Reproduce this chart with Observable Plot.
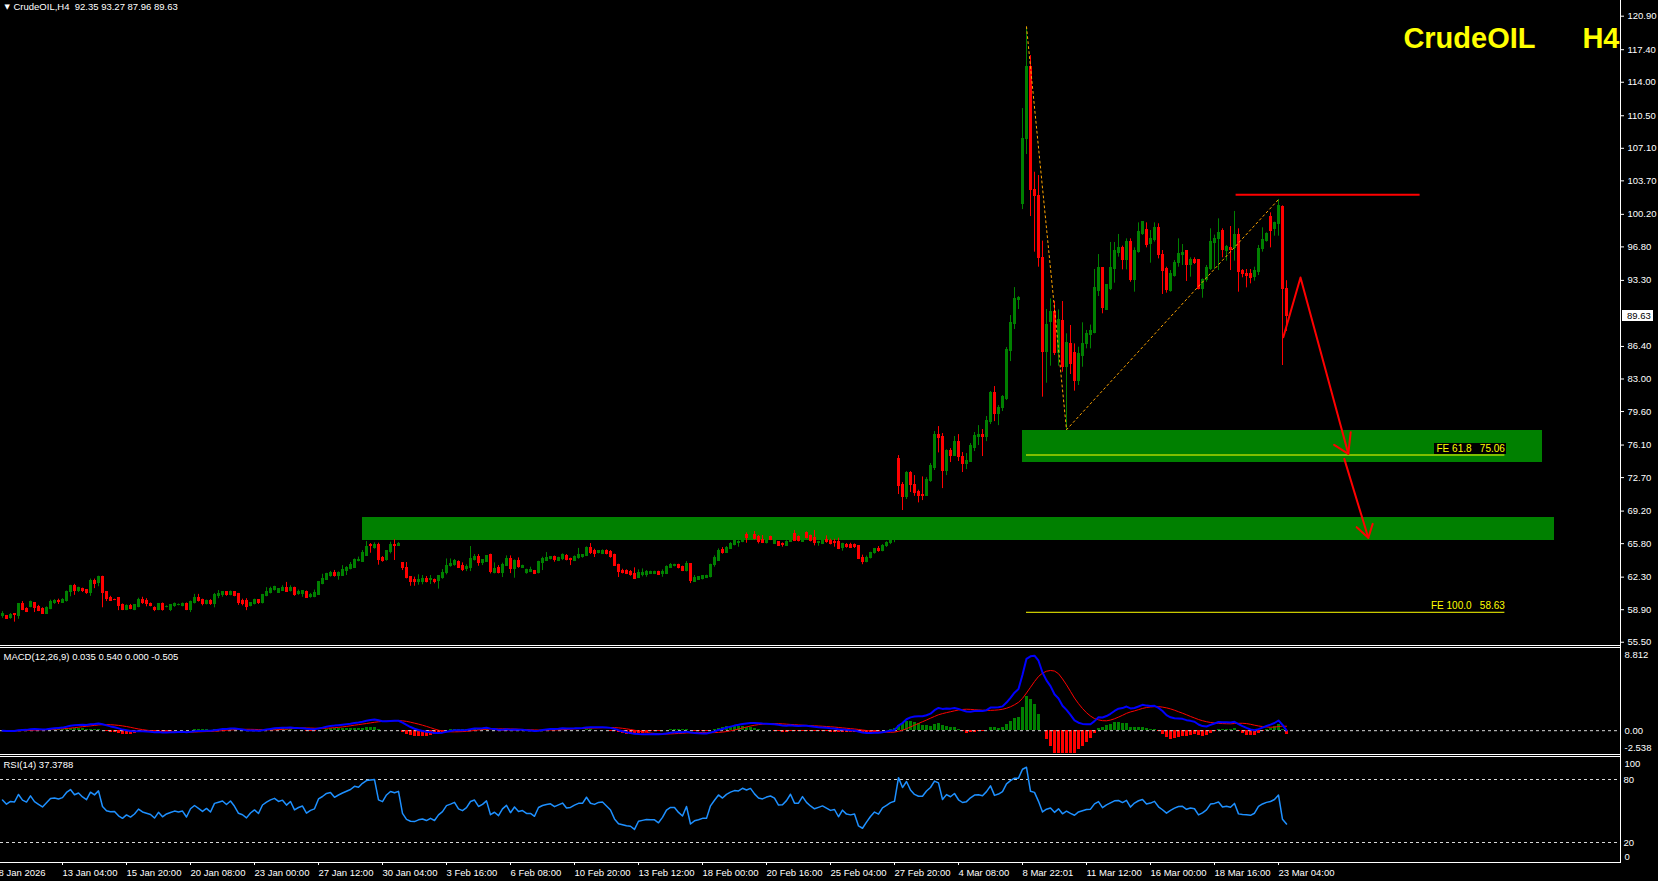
<!DOCTYPE html>
<html><head><meta charset="utf-8">
<script src="https://cdn.jsdelivr.net/npm/d3@7"></script>
<script src="https://cdn.jsdelivr.net/npm/@observablehq/plot@0.6"></script>
<style>
html,body{margin:0;padding:0;background:#000;}
#root{position:relative;width:1658px;height:881px;background:#000;overflow:hidden;font-family:"Liberation Sans",Arial,sans-serif;}
#root svg text{white-space:pre;}
#root svg rect{shape-rendering:crispEdges;}
.ln{position:absolute;background:#fff;}
.pbox{position:absolute;background:#fff;color:#000;font-size:9.5px;line-height:11px;height:11px;}
</style></head><body><div id="root"></div>
<script>
// ---- H4 candles (bar index 0..321) ----
const open = [58.2,58.25,58.0,58.4,58.2,59.45,59.0,59.2,59.55,59.2,
58.95,58.5,59.0,59.6,59.85,59.65,59.8,60.75,61.35,60.9,
61.1,60.95,60.6,61.85,61.7,62.35,60.7,60.15,59.95,60.07,
59.35,58.9,59.3,58.9,59.2,59.95,59.8,59.5,59.1,58.9,
59.45,59.15,58.9,59.25,59.35,59.3,59.5,58.9,59.6,60.1,
59.95,59.5,59.85,59.45,60.35,60.4,60.7,60.4,60.75,60.5,
59.85,59.85,59.3,59.5,59.9,59.55,60.3,60.65,60.95,60.65,
60.9,61.15,60.85,61.2,60.5,60.5,60.8,60.2,60.25,60.45,
61.6,62.05,62.45,62.75,62.4,62.43,62.9,63.13,63.3,63.97,
63.93,64.56,65.65,65.33,65.64,64.3,64.04,64.9,65.64,65.57,
63.73,63.3,62.3,62.05,61.8,61.84,62.15,62.0,62.05,61.88,
62.22,62.7,63.44,63.6,63.86,63.48,63.17,63.27,64.1,64.38,
63.79,63.89,64.59,62.78,63.27,62.71,63.51,64.17,63.13,64.03,
63.27,62.71,62.88,62.99,62.71,63.76,63.99,64.17,64.45,63.99,
64.17,64.55,64.2,63.99,64.28,64.45,64.49,65.39,65.04,64.8,
64.77,65.04,64.9,64.59,63.62,62.99,62.92,62.81,62.67,62.22,
62.54,62.54,62.64,62.64,62.81,62.64,62.64,63.3,63.44,63.55,
63.41,62.99,63.65,61.84,62.05,62.08,62.22,62.29,63.55,64.03,
65.15,64.87,65.29,65.67,65.84,66.0,66.72,66.37,66.72,66.47,
66.19,65.84,66.47,65.81,65.98,65.77,65.57,66.0,66.79,66.47,
66.02,66.93,66.61,66.44,65.84,65.77,66.19,66.12,66.02,65.95,
65.32,65.7,65.67,65.67,65.53,64.3,63.9,64.35,64.8,65.2,
65.0,65.6,65.85,66.15,74.69,71.97,70.65,73.23,71.97,71.24,
70.93,70.82,72.39,73.75,77.19,76.99,73.44,75.53,74.97,76.46,
74.9,74.17,74.38,75.84,76.99,77.19,76.99,78.55,81.58,79.39,
79.92,80.96,85.97,88.79,91.3,101.33,108.02,115.64,102.79,102.1,
95.62,85.87,88.94,89.98,85.7,89.11,84.23,86.67,85.7,82.77,
85.38,86.67,87.55,87.82,92.24,94.58,90.26,92.42,94.44,96.18,
96.67,95.45,97.3,93.36,96.25,98.16,98.58,97.12,97.47,98.79,
95.97,94.44,92.24,93.81,95.13,96.0,96.32,94.86,95.48,95.38,
92.42,93.29,94.44,97.2,97.61,98.41,96.42,96.7,96.67,98.06,
94.23,93.99,93.92,93.64,94.16,96.53,97.4,99.97,98.62,99.21,
101.02,92.35];
const high = [58.7,58.3,58.5,58.5,59.55,59.75,59.1,59.8,59.6,59.35,
59.1,59.2,59.9,59.95,60.0,60.05,60.85,61.45,61.55,61.25,
61.15,61.0,62.1,62.1,62.4,62.4,60.75,60.3,60.0,60.1,
59.5,59.4,59.45,59.4,60.1,60.2,60.05,59.6,59.2,59.5,
59.6,59.3,59.4,59.6,59.5,59.6,59.6,59.8,60.5,60.5,
60.0,59.9,59.95,60.6,60.9,60.8,60.8,60.85,60.8,60.6,
60.0,60.05,59.65,60.0,59.95,60.5,61.2,61.25,61.35,61.1,
61.4,61.75,61.4,61.25,60.95,60.9,60.85,60.6,60.95,61.85,
62.6,62.7,62.9,63.0,62.85,63.5,63.4,63.83,64.2,64.4,
65.08,66.02,65.81,65.88,65.85,64.45,65.05,65.95,66.2,65.92,
63.83,63.83,62.3,62.3,62.54,62.47,62.37,62.47,62.1,62.4,
63.09,64.2,64.2,64.14,64.0,63.79,63.58,65.5,64.66,64.66,
64.1,64.56,64.7,63.79,63.51,63.76,64.52,64.52,64.1,64.31,
63.55,63.13,63.34,63.0,63.96,64.38,64.87,64.45,64.5,64.38,
64.73,64.66,64.28,64.52,65.3,64.66,65.46,65.81,65.22,65.08,
65.15,65.15,65.08,64.7,63.65,63.13,63.06,62.99,63.27,63.06,
63.16,62.99,62.92,62.92,62.92,63.06,63.48,63.72,63.65,63.65,
63.45,63.93,63.7,62.47,62.33,62.45,62.5,63.65,64.52,65.25,
65.39,65.5,65.91,66.26,66.1,66.6,66.93,66.8,67.06,66.65,
66.65,66.2,66.58,66.2,66.0,65.88,66.1,66.9,67.17,66.61,
66.9,67.03,66.7,67.17,66.05,66.19,66.61,66.26,66.26,66.37,
65.84,65.81,65.84,65.77,65.6,64.6,64.5,64.9,65.3,65.5,
65.7,66.0,66.3,66.5,75.0,72.18,73.33,73.33,72.91,71.38,
72.77,72.7,74.17,77.51,78.03,77.3,75.6,75.73,76.99,77.19,
75.32,75.21,76.26,77.41,78.13,77.72,79.08,81.69,82.21,80.23,
81.27,86.29,89.63,92.55,91.61,111.25,119.7,116.79,104.6,104.26,
97.4,90.26,91.37,91.09,90.22,91.09,87.72,88.59,86.67,86.32,
88.87,88.07,88.63,94.44,96.0,94.61,92.87,97.26,97.26,98.1,
96.88,97.64,97.64,96.7,99.31,99.4,99.31,98.51,99.31,99.21,
96.42,94.68,94.33,95.38,97.64,97.05,96.42,95.66,95.66,95.48,
93.46,94.86,98.69,98.03,99.73,98.69,96.95,98.93,100.5,98.69,
94.44,94.44,94.44,94.68,96.95,98.79,98.27,100.36,99.38,101.75,
101.09,93.27];
const low = [58.0,57.9,57.9,57.6,57.9,58.8,58.6,59.1,58.6,58.7,
58.4,58.4,58.9,59.45,59.45,59.6,59.7,60.25,60.4,60.7,
60.7,60.5,60.3,61.1,61.3,59.1,59.75,59.75,59.85,58.8,
58.8,58.8,58.9,58.8,59.1,59.45,59.2,59.2,58.7,58.8,
58.75,59.1,58.7,59.15,59.3,59.2,58.8,58.6,59.5,59.7,
59.3,59.4,59.35,59.1,60.05,60.2,60.3,60.35,60.25,59.35,
59.3,58.8,59.2,59.4,59.45,59.5,60.25,60.55,60.85,60.6,
60.8,60.8,60.75,60.3,60.4,60.2,60.1,60.1,60.15,60.4,
61.5,61.98,62.3,62.3,61.98,62.37,62.47,63.06,63.2,63.9,
63.9,64.49,64.8,65.22,63.55,63.86,63.97,64.73,64.04,65.53,
62.99,62.12,61.35,61.35,61.46,61.5,61.7,61.53,61.6,61.05,
62.08,62.54,63.34,63.44,63.2,62.88,62.88,62.88,63.99,63.44,
63.51,63.83,62.64,62.64,62.64,62.26,63.41,62.67,62.19,63.23,
63.2,62.6,62.78,62.57,62.64,62.99,63.93,64.1,63.86,63.93,
64.03,64.0,63.51,63.93,64.17,64.28,64.45,64.66,64.35,64.73,
64.66,64.63,64.28,63.41,62.26,62.64,62.57,62.4,62.05,62.15,
62.33,62.29,62.57,62.57,62.47,62.29,62.57,63.2,63.37,63.16,
62.88,62.85,61.63,61.74,61.95,62.01,62.15,62.22,63.34,63.96,
64.7,64.8,65.22,65.57,65.43,65.9,65.84,66.3,66.19,65.77,
65.81,65.77,66.12,65.74,65.53,65.43,65.5,65.95,66.02,65.98,
65.95,66.3,65.98,65.57,65.53,65.7,65.84,65.67,65.43,65.18,
65.01,65.32,65.29,65.29,64.14,63.6,63.8,64.2,64.7,64.9,
64.95,65.4,65.7,65.9,70.93,69.26,70.41,71.14,70.75,70.06,
70.3,70.82,72.21,73.44,75.28,71.55,72.91,74.27,74.9,74.38,
73.23,73.54,74.38,75.42,76.05,74.9,76.46,78.24,78.55,78.13,
79.6,80.75,84.82,88.17,90.26,100.7,106.45,99.97,96.25,94.68,
81.1,82.56,84.34,85.45,84.34,83.71,77.7,83.47,81.73,82.32,
84.23,86.15,86.15,87.72,91.62,89.81,90.16,92.24,93.01,95.73,
94.4,94.4,93.11,92.07,96.14,98.0,96.7,95.1,97.3,95.55,
91.83,91.97,92.07,93.64,94.68,94.86,93.19,93.64,94.96,92.31,
91.44,93.11,94.33,94.44,94.33,95.66,95.31,94.33,95.31,92.07,
93.57,92.52,92.94,93.22,93.81,96.25,97.3,96.7,97.92,97.92,
84.41,87.96];
const close = [58.4,57.97,58.35,58.3,59.45,58.9,58.7,59.7,59.1,58.8,
58.5,59.1,59.75,59.85,59.75,59.95,60.8,61.35,60.9,61.2,
60.85,60.6,61.85,61.6,62.35,60.6,60.0,59.85,59.9,59.27,
58.9,59.3,59.0,59.35,59.95,59.6,59.45,59.3,58.85,59.45,
58.9,59.2,59.35,59.5,59.42,59.5,58.9,59.7,60.07,59.8,
59.5,59.8,59.45,60.4,60.55,60.7,60.4,60.8,60.35,59.65,
59.5,59.15,59.6,59.9,59.55,60.45,60.8,61.1,61.3,61.05,
61.2,60.8,61.2,60.45,60.7,60.85,60.17,60.45,60.6,61.77,
62.12,62.6,62.75,62.37,62.7,63.0,63.27,63.55,64.1,64.04,
64.8,65.43,65.57,65.67,64.14,63.97,65.0,65.64,65.53,65.78,
63.24,62.2,61.84,61.77,61.98,62.08,61.84,62.08,61.77,62.37,
62.74,63.51,63.72,63.96,63.27,63.06,63.41,64.24,64.45,63.79,
64.07,64.55,62.88,63.2,62.71,63.62,64.17,63.13,64.03,63.34,
63.48,63.06,63.06,62.64,63.86,64.17,64.31,64.42,64.1,64.35,
64.59,64.07,64.14,64.42,64.63,64.63,65.39,64.87,64.77,65.0,
65.04,64.73,64.38,63.48,62.88,62.74,62.6,62.54,62.12,62.71,
62.78,62.85,62.81,62.81,62.54,62.88,63.41,63.62,63.62,63.27,
62.99,63.72,61.91,62.19,62.29,62.4,62.4,63.58,64.28,65.08,
64.8,65.39,65.77,66.05,66.02,66.5,66.37,66.65,66.26,65.95,
65.88,66.1,66.23,66.09,65.6,65.63,66.02,66.75,66.09,66.09,
66.85,66.4,66.09,65.84,65.98,66.12,65.95,65.77,65.84,65.25,
65.77,65.43,65.36,65.43,64.21,63.9,64.35,64.8,65.2,65.0,
65.6,65.85,66.15,66.3,71.87,70.65,73.23,71.9,71.14,70.82,
70.82,72.49,73.86,77.19,76.88,73.44,75.53,75.0,76.46,74.9,
74.17,74.48,75.95,77.09,77.19,76.99,78.66,81.58,79.39,80.02,
81.17,86.08,88.9,91.4,91.45,108.12,115.64,102.79,102.1,95.62,
85.8,88.69,89.98,85.7,89.21,84.23,86.74,84.58,82.77,85.63,
86.67,87.72,87.99,92.49,94.58,90.4,92.77,94.58,96.35,96.67,
95.48,97.3,93.36,96.42,98.34,99.38,96.95,97.58,98.79,95.97,
94.33,92.31,93.92,95.17,96.11,96.2,94.86,95.48,95.17,92.42,
93.29,94.58,97.3,97.64,98.3,96.49,96.84,96.49,98.06,94.16,
93.92,93.81,93.57,94.23,96.6,97.54,98.16,98.51,99.28,101.12,
92.4,89.63];

// ---- axis ticks ----
const priceTicks = [120.90,117.40,114.00,110.50,107.10,103.70,100.20,96.80,93.30,86.40,83.00,79.60,76.10,72.70,69.20,65.80,62.30,58.90,55.50];
const lastPrice = 89.63;
const timeTickIdx = [-1,15,31,47,63,79,95,111,127,143,159,175,191,207,223,239,255,271,287,303,319];
const timeLabels = ["8 Jan 2026","13 Jan 04:00","15 Jan 20:00","20 Jan 08:00","23 Jan 00:00","27 Jan 12:00","30 Jan 04:00","3 Feb 16:00","6 Feb 08:00","10 Feb 20:00","13 Feb 12:00","18 Feb 00:00","20 Feb 16:00","25 Feb 04:00","27 Feb 20:00","4 Mar 08:00","8 Mar 22:01","11 Mar 12:00","16 Mar 00:00","18 Mar 16:00","23 Mar 04:00"];

// ---- drawn objects (bar index, price) ----
const zones = [{x1:255.0, x2:384.9, y1:74.30, y2:77.63},{x1:89.9, x2:387.9, y1:66.09, y2:68.52}];
const feLevels = [{name:"FE 61.8   75.06", price:75.06, x1:256, x2:375.6},{name:"FE 100.0   58.63", price:58.63, x1:256, x2:375.6}];
const zigzag = [{i:256, p:119.8},{i:266, p:77.7},{i:319, p:101.75}];
const resistance = [{price:102.24, x1:308.4, x2:354.4}];
const arrowA = [{i:320.2,p:87.37},{i:324.5,p:93.6},{i:336.45,p:75.18}];
const arrowAHead = [{i:332.9,p:76.12},{i:336.45,p:75.18},{i:337.05,p:77.44}];
const arrowB = [{i:335.45,p:74.66},{i:341.45,p:66.41}];
const arrowBHead = [{i:338.55,p:67.52},{i:341.45,p:66.41},{i:342.55,p:67.87}];

const headerText = "CrudeOIL,H4  92.35 93.27 87.96 89.63";
const macdText = "MACD(12,26,9) 0.035 0.540 0.000 -0.505";
const rsiText = "RSI(14) 37.3788";
const macdScale = [8.812, 0, -2.538];
const rsiScale = [100, 80, 20, 0];

const GREEN = "#008000", RED = "#ff0000";
const FONT = "'Liberation Sans', Arial, sans-serif";
const xDomain = [-0.5, 404.5];
const yMain = [55.16, 122.54];
const PX_PER_BAR = 4, PX_PER_USD = 645 / (yMain[1] - yMain[0]);
const baseStyle = {background:"transparent", color:"#fff", fontFamily:FONT, fontSize:"9.5px", overflow:"visible"};

const bars = close.map((c,i)=>({i, o:open[i], h:high[i], l:low[i], c, lo:Math.min(open[i],c), hi:Math.max(open[i],c)}));
const ups = bars.filter(d=>d.c>=d.o), downs = bars.filter(d=>d.c<d.o);

// ---- indicators from closes ----
function ema(arr,n){const k=2/(n+1);let e=arr[0];return arr.map((v,i)=>(e=i===0?v:v*k+e*(1-k)));}
const e12 = ema(close,12), e26 = ema(close,26);
const macd = close.map((_,i)=>e12[i]-e26[i]);
const signal = macd.map((_,i)=>d3.mean(macd.slice(Math.max(0,i-8),i+1)));
const mrows = macd.map((m,i)=>({i, m, s:signal[i], h:m-signal[i]}));
const rsi = [];
{ // Wilder RSI(14), seeded with the average move of the first 14 bars
  let ag=0, al=0;
  for (let i=1;i<=14;i++){const d=close[i]-close[i-1]; ag+=Math.max(d,0)/14; al+=Math.max(-d,0)/14;}
  rsi.push({i:0, v:100-100/(1+ag/al)});
  for (let i=1;i<close.length;i++){
    const d=close[i]-close[i-1];
    ag=(ag*13+Math.max(d,0))/14; al=(al*13+Math.max(-d,0))/14;
    rsi.push({i, v: al===0?100:100-100/(1+ag/al)});
  }
}

// black label box behind the FE 61.8 text (measured from the text itself)
const ctx = document.createElement("canvas").getContext("2d");
ctx.font = "10px 'Liberation Sans', Arial, sans-serif";
const feW = ctx.measureText(feLevels[0].name).width;
const feBox = [{x1: feLevels[0].x2 - (feW + 2) / PX_PER_BAR, x2: feLevels[0].x2 + 0.4,
                y1: feLevels[0].price + 1 / PX_PER_USD, y2: feLevels[0].price + 11.5 / PX_PER_USD}];

const root = document.getElementById("root");
function place(el, top){ el.style.position="absolute"; el.style.left="0px"; el.style.top=top+"px"; root.appendChild(el); return el; }
function line(x,y,w,h){ const d=document.createElement("div"); d.className="ln"; Object.assign(d.style,{left:x+"px",top:y+"px",width:w+"px",height:h+"px"}); root.appendChild(d); }

// ---- main price panel ----
const main = Plot.plot({
  width:1658, height:645, marginLeft:0, marginRight:38, marginTop:0, marginBottom:0,
  style: baseStyle,
  x:{domain:xDomain, axis:null},
  y:{domain:yMain, axis:null},
  marks:[
    Plot.rect(zones,{x1:"x1",x2:"x2",y1:"y1",y2:"y2",fill:GREEN}),
    Plot.ruleY(feLevels,{y:"price",x1:"x1",x2:"x2",stroke:"#ffff00",strokeWidth:1}),
    Plot.rect(feBox,{x1:"x1",x2:"x2",y1:"y1",y2:"y2",fill:"#000"}),
    Plot.text(feLevels,{x:"x2",y:"price",text:"name",textAnchor:"end",lineAnchor:"middle",dy:-6,fill:"#ffff00",fontSize:10}),
    Plot.ruleX(ups,{x:"i",y1:"l",y2:"h",stroke:GREEN,strokeWidth:1}),
    Plot.ruleX(downs,{x:"i",y1:"l",y2:"h",stroke:RED,strokeWidth:1}),
    Plot.rect(ups,{x1:d=>d.i-0.375,x2:d=>d.i+0.375,y1:"lo",y2:"hi",fill:GREEN,insetTop:-0.5,insetBottom:-0.5}),
    Plot.rect(downs,{x1:d=>d.i-0.375,x2:d=>d.i+0.375,y1:"lo",y2:"hi",fill:RED,insetTop:-0.5,insetBottom:-0.5}),
    Plot.line(zigzag,{x:"i",y:"p",stroke:"#ffa500",strokeWidth:1,strokeDasharray:"2,3"}),
    Plot.ruleY(resistance,{y:"price",x1:"x1",x2:"x2",stroke:RED,strokeWidth:2}),
    Plot.line(arrowA,{x:"i",y:"p",stroke:RED,strokeWidth:2}),
    Plot.line(arrowAHead,{x:"i",y:"p",stroke:RED,strokeWidth:2}),
    Plot.line(arrowB,{x:"i",y:"p",stroke:RED,strokeWidth:2}),
    Plot.line(arrowBHead,{x:"i",y:"p",stroke:RED,strokeWidth:2}),
    Plot.axisY(priceTicks,{anchor:"right",tickSize:3,tickPadding:4,tickFormat:d=>d.toFixed(2),fontSize:9.5}),
    Plot.text(["\u25BC"],{text:d=>d,frameAnchor:"top-left",dx:4,dy:6,lineAnchor:"middle",fontSize:7,fill:"#fff",fontFamily:"DejaVu Sans"}),
    Plot.text([headerText],{text:d=>d,frameAnchor:"top-left",dx:13,dy:6,lineAnchor:"middle",textAnchor:"start",fontSize:9.5,fill:"#fff"}),
    Plot.text(["CrudeOIL"],{text:d=>d,frameAnchor:"top-right",dx:-85,dy:38,lineAnchor:"middle",textAnchor:"end",fontSize:29,fontWeight:"bold",fill:"#ffff00"}),
    Plot.text(["H4"],{text:d=>d,frameAnchor:"top-right",dx:-1,dy:38,lineAnchor:"middle",textAnchor:"end",fontSize:29,fontWeight:"bold",fill:"#ffff00"})
  ]
});
place(main,0);
{ const yp = main.scale("y").apply(lastPrice);
  const b=document.createElement("div"); b.className="pbox"; b.textContent=lastPrice.toFixed(2);
  Object.assign(b.style,{left:"1622px",top:(yp-5.5)+"px",width:"26px",paddingLeft:"5px"}); root.appendChild(b); }

// ---- MACD panel ----
const labelOpts = {frameAnchor:"right",dx:4,textAnchor:"start",lineAnchor:"middle",fontSize:9.5,fill:"#fff"};
const macdPlot = Plot.plot({
  width:1658, height:106, marginLeft:0, marginRight:38, marginTop:3, marginBottom:1,
  style: baseStyle,
  x:{domain:xDomain, axis:null},
  y:{domain:[-2.538,8.812], axis:null},
  marks:[
    Plot.rect(mrows.filter(d=>d.h>=0),{x1:d=>d.i-0.375,x2:d=>d.i+0.375,y1:0,y2:"h",fill:GREEN,clip:true}),
    Plot.rect(mrows.filter(d=>d.h<0),{x1:d=>d.i-0.375,x2:d=>d.i+0.375,y1:0,y2:"h",fill:RED,clip:true}),
    Plot.ruleY([0],{stroke:"#d8d8d8",strokeDasharray:"3,3"}),
    Plot.line(mrows,{x:"i",y:"s",stroke:RED,strokeWidth:1,clip:true}),
    Plot.line(mrows,{x:"i",y:"m",stroke:"#0000ff",strokeWidth:2,clip:true}),
    Plot.text([macdScale[0]],{...labelOpts,y:d=>d,text:d=>d.toFixed(3),dy:3}),
    Plot.text([macdScale[1]],{...labelOpts,y:d=>d,text:d=>d.toFixed(2)}),
    Plot.text([macdScale[2]],{...labelOpts,y:d=>d,text:d=>d.toFixed(3),dy:-6}),
    Plot.text([macdText],{text:d=>d,frameAnchor:"top-left",dx:3,dy:5,lineAnchor:"middle",textAnchor:"start",fontSize:9.5,fill:"#fff"})
  ]
});
place(macdPlot,648);

// ---- RSI panel ----
const rsiPlot = Plot.plot({
  width:1658, height:107, marginLeft:0, marginRight:38, marginTop:2, marginBottom:0,
  style: baseStyle,
  x:{domain:xDomain, axis:null},
  y:{domain:[0,100], axis:null},
  marks:[
    Plot.ruleY([80,20],{stroke:"#d8d8d8",strokeDasharray:"3,3"}),
    Plot.line(rsi,{x:"i",y:"v",stroke:"#1e90ff",strokeWidth:1.5}),
    Plot.text([rsiScale[0]],{...labelOpts,y:d=>d,text:d=>String(d),dy:5}),
    Plot.text([rsiScale[1],rsiScale[2]],{...labelOpts,y:d=>d,text:d=>String(d),dx:3}),
    Plot.text([rsiScale[3]],{...labelOpts,y:d=>d,text:d=>String(d),dy:-7}),
    Plot.text([rsiText],{text:d=>d,frameAnchor:"top-left",dx:3,dy:6,lineAnchor:"middle",textAnchor:"start",fontSize:9.5,fill:"#fff"})
  ]
});
place(rsiPlot,756);

// ---- time axis ----
const timeRows = timeTickIdx.map((i,k)=>({i, label:timeLabels[k]}));
const timePlot = Plot.plot({
  width:1658, height:19, marginLeft:0, marginRight:38, marginTop:0, marginBottom:0,
  style: baseStyle,
  x:{domain:xDomain, axis:null},
  y:{domain:[0,19], range:[0,19], axis:null},
  marks:[
    Plot.ruleX(timeRows,{x:"i",y1:0,y2:3,stroke:"#fff"}),
    Plot.text(timeRows,{x:"i",y:10,text:"label",textAnchor:"start",lineAnchor:"middle",fontSize:9.5,fill:"#fff"})
  ]
});
place(timePlot,862);

// ---- panel frame lines ----
line(0,645,1621,1); line(0,647,1621,1);
line(0,754,1621,1); line(0,756,1621,1);
line(0,862,1621,1);
line(1620,0,1,863);
</script></body></html>
